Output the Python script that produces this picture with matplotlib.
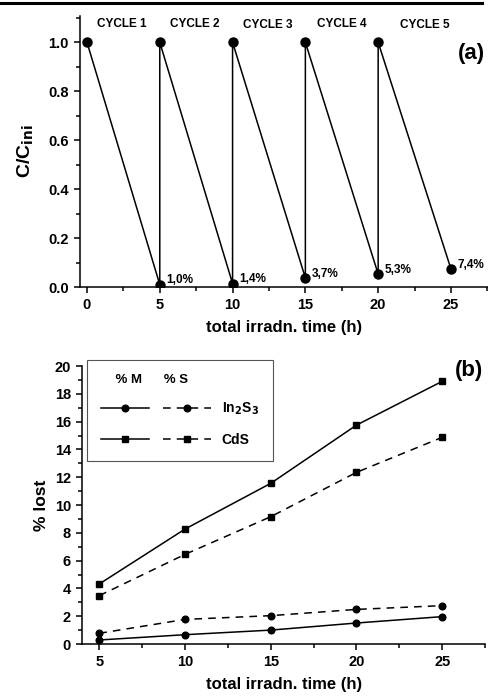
import matplotlib.pyplot as plt
from matplotlib.lines import Line2D
from matplotlib.legend_handler import HandlerTuple
from matplotlib.ticker import MultipleLocator

plt.rcParams['font.family'] = ['Liberation Sans', 'DejaVu Sans']
plt.rcParams['font.weight'] = 'bold'
plt.rcParams['axes.labelweight'] = 'bold'

# (a) photocatalytic cycles
cycle_starts = [0, 5, 10, 15, 20]
cycle_len = 5
final_pct = [1.0, 1.4, 3.7, 5.3, 7.4]
final_labels = ['1,0%', '1,4%', '3,7%', '5,3%', '7,4%']
cycle_names = ['CYCLE 1', 'CYCLE 2', 'CYCLE 3', 'CYCLE 4', 'CYCLE 5']
cycle_label_x = [2.4, 7.4, 12.4, 17.5, 23.2]
cycle_label_y = [1.076, 1.076, 1.072, 1.074, 1.072]

# (b) % lost
t_b = [5, 10, 15, 20, 25]
in2s3_m = [0.29, 0.67, 1.0, 1.51, 1.97]
in2s3_s = [0.77, 1.77, 2.04, 2.49, 2.76]
cds_m = [4.32, 8.27, 11.56, 15.75, 18.9]
cds_s = [3.48, 6.45, 9.16, 12.35, 14.87]

fig = plt.figure(figsize=(4.89, 6.96), dpi=100)
fig.add_artist(Line2D([0, 0.985], [0.9955, 0.9955], color='black', lw=2.2,
                      transform=fig.transFigure))

# ---------- panel (a)
ax1 = fig.add_axes([0.1636, 0.5876, 0.836, 0.39])
xs, ys = [], []
for s, p in zip(cycle_starts, final_pct):
    xs += [s, s + cycle_len]
    ys += [1.0, p / 100]
ax1.plot(xs, ys, color='black', lw=1.1, marker='o', ms=6.5, mfc='black')
for s, p, lab in zip(cycle_starts, final_pct, final_labels):
    ax1.annotate(lab, (s + cycle_len, p / 100), xytext=(4.5, 3),
                 textcoords='offset points', fontsize=8.5, fontweight='bold',
                 va='center', ha='left')
for name, x, y in zip(cycle_names, cycle_label_x, cycle_label_y):
    ax1.text(x, y, name, fontsize=8.5, fontweight='bold', ha='center', va='center')
ax1.text(0.99, 0.86, '(a)', transform=ax1.transAxes, fontsize=16,
         fontweight='bold', ha='right', va='center')
ax1.set_xlim(-0.48, 27.6)
ax1.set_ylim(0, 1.109)
ax1.xaxis.set_major_locator(MultipleLocator(5))
ax1.xaxis.set_minor_locator(MultipleLocator(2.5))
ax1.yaxis.set_major_locator(MultipleLocator(0.2))
ax1.yaxis.set_minor_locator(MultipleLocator(0.1))
ax1.set_xlabel('total irradn. time (h)', fontsize=12, labelpad=6)
ax1.set_ylabel('C/C$_{\\mathbf{ini}}$', fontsize=14, labelpad=9)

# ---------- panel (b)
ax2 = fig.add_axes([0.168, 0.0747, 0.824, 0.3994])
l1, = ax2.plot(t_b, in2s3_m, color='black', lw=1.1, marker='o', ms=4.8)
l2, = ax2.plot(t_b, in2s3_s, color='black', lw=1.1, ls=(0, (5, 4)), marker='o', ms=4.8)
l3, = ax2.plot(t_b, cds_m, color='black', lw=1.1, marker='s', ms=4.5)
l4, = ax2.plot(t_b, cds_s, color='black', lw=1.1, ls=(0, (5, 4)), marker='s', ms=4.5)
leg = ax2.legend([(l1, l2), (l3, l4)], ['In$_\\mathbf{2}$S$_\\mathbf{3}$', 'CdS'],
                 handler_map={tuple: HandlerTuple(ndivide=None, pad=1.0)},
                 loc='upper left', bbox_to_anchor=(0.012, 1.022), borderaxespad=0,
                 fancybox=False, edgecolor='#555555', framealpha=1, fontsize=10,
                 handlelength=7.9, handletextpad=0.8, borderpad=1.0,
                 labelspacing=1.1, title='    % M      % S            ',
                 title_fontproperties={'weight': 'bold', 'size': 9.5},
                 alignment='left')
leg.get_frame().set_linewidth(0.8)
ax2.text(0.995, 0.985, '(b)', transform=ax2.transAxes, fontsize=16,
         fontweight='bold', ha='right', va='center')
ax2.set_xlim(4.0, 27.5)
ax2.set_ylim(0, 20)
ax2.xaxis.set_major_locator(MultipleLocator(5))
ax2.xaxis.set_minor_locator(MultipleLocator(2.5))
ax2.yaxis.set_major_locator(MultipleLocator(2))
ax2.yaxis.set_minor_locator(MultipleLocator(1))
ax2.set_xlabel('total irradn. time (h)', fontsize=12, labelpad=6)
ax2.set_ylabel('% lost', fontsize=12.5, labelpad=4)

for ax in (ax1, ax2):
    ax.spines['top'].set_visible(False)
    ax.spines['right'].set_visible(False)
    for sp in ax.spines.values():
        sp.set_linewidth(1.1)
    ax.tick_params(which='major', direction='out', length=4.5, width=1.1, labelsize=10.5)
    ax.tick_params(which='minor', direction='out', length=3, width=1.1)
    for lab in ax.get_xticklabels() + ax.get_yticklabels():
        lab.set_fontweight('bold')

fig.savefig('out.png', dpi=100)
